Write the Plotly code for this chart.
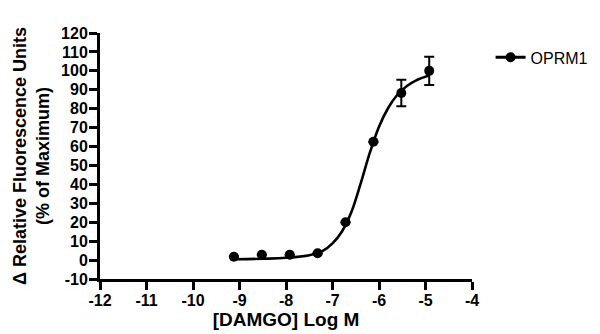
import plotly.graph_objects as go

# Data points (log M) and responses (% of max)
log_conc = [-9.12, -8.52, -7.92, -7.32, -6.72, -6.12, -5.52, -4.92]
response = [1.8, 2.8, 2.8, 3.6, 20.0, 62.5, 88.3, 100.0]
sem = [0, 0, 0, 0, 0, 0, 7.0, 7.5]

# Fitted curve
curve_x = [-9.12, -8.5, -8.0, -7.5, -7.2, -7.0, -6.8, -6.6, -6.4, -6.2, -6.0, -5.8, -5.6, -5.4, -5.2, -4.92]
curve_y = [0.4, 0.7, 1.2, 2.6, 5.0, 8.8, 15.0, 25.0, 40.0, 56.5, 70.5, 80.5, 87.5, 92.0, 95.0, 97.5]

x_ticks = [-12, -11, -10, -9, -8, -7, -6, -5, -4]
y_ticks = [-10, 0, 10, 20, 30, 40, 50, 60, 70, 80, 90, 100, 110, 120]

series_name = "OPRM1"
x_title = "[DAMGO] Log M"
y_title = "Δ Relative Fluorescence Units<br>(% of Maximum)"

FONT = "Liberation Sans, Arial, sans-serif"

fig = go.Figure()
fig.add_trace(go.Scatter(
    x=curve_x, y=curve_y, mode="lines", line=dict(color="black", width=2.6, shape="spline"),
    showlegend=False, hoverinfo="skip"))
fig.add_trace(go.Scatter(
    x=log_conc, y=response, mode="markers",
    marker=dict(color="black", size=10),
    error_y=dict(type="data", array=sem, visible=True, color="black", thickness=2, width=5),
    showlegend=False))
fig.add_trace(go.Scatter(
    x=[None], y=[None], mode="lines+markers", name=series_name,
    line=dict(color="black", width=3), marker=dict(color="black", size=10)))

axis_common = dict(
    showgrid=False, zeroline=False, showline=True, linecolor="black", linewidth=3,
    ticks="outside", tickcolor="black", tickwidth=3, ticklen=8,
    tickfont=dict(family=FONT, size=16, color="black", weight="bold"),
)
fig.update_xaxes(range=[-12, -4], tickvals=x_ticks, ticktext=[str(v) for v in x_ticks],
                 ticklabelstandoff=-3,
                 title=dict(text=x_title, font=dict(family=FONT, size=19, color="black", weight="bold"), standoff=4),
                 **axis_common)
fig.update_yaxes(range=[-10, 120], tickvals=y_ticks, ticktext=[str(v) for v in y_ticks],
                 ticklabelstandoff=-2,
                 **axis_common)

fig.add_annotation(text=y_title, xref="paper", yref="paper", x=0, y=0.5, xanchor="center", yanchor="middle",
                   xshift=-69, yshift=0, textangle=-90, showarrow=False,
                   font=dict(family=FONT, size=18, color="black", weight="bold"))

fig.update_layout(
    width=600, height=334,
    margin=dict(l=92, r=136, t=25, b=63),
    plot_bgcolor="white", paper_bgcolor="white",
    legend=dict(x=1.05, y=0.97, xanchor="left", yanchor="top",
                font=dict(family=FONT, size=16, color="black"), bgcolor="rgba(0,0,0,0)"),
)

fig.write_html("out.html")
